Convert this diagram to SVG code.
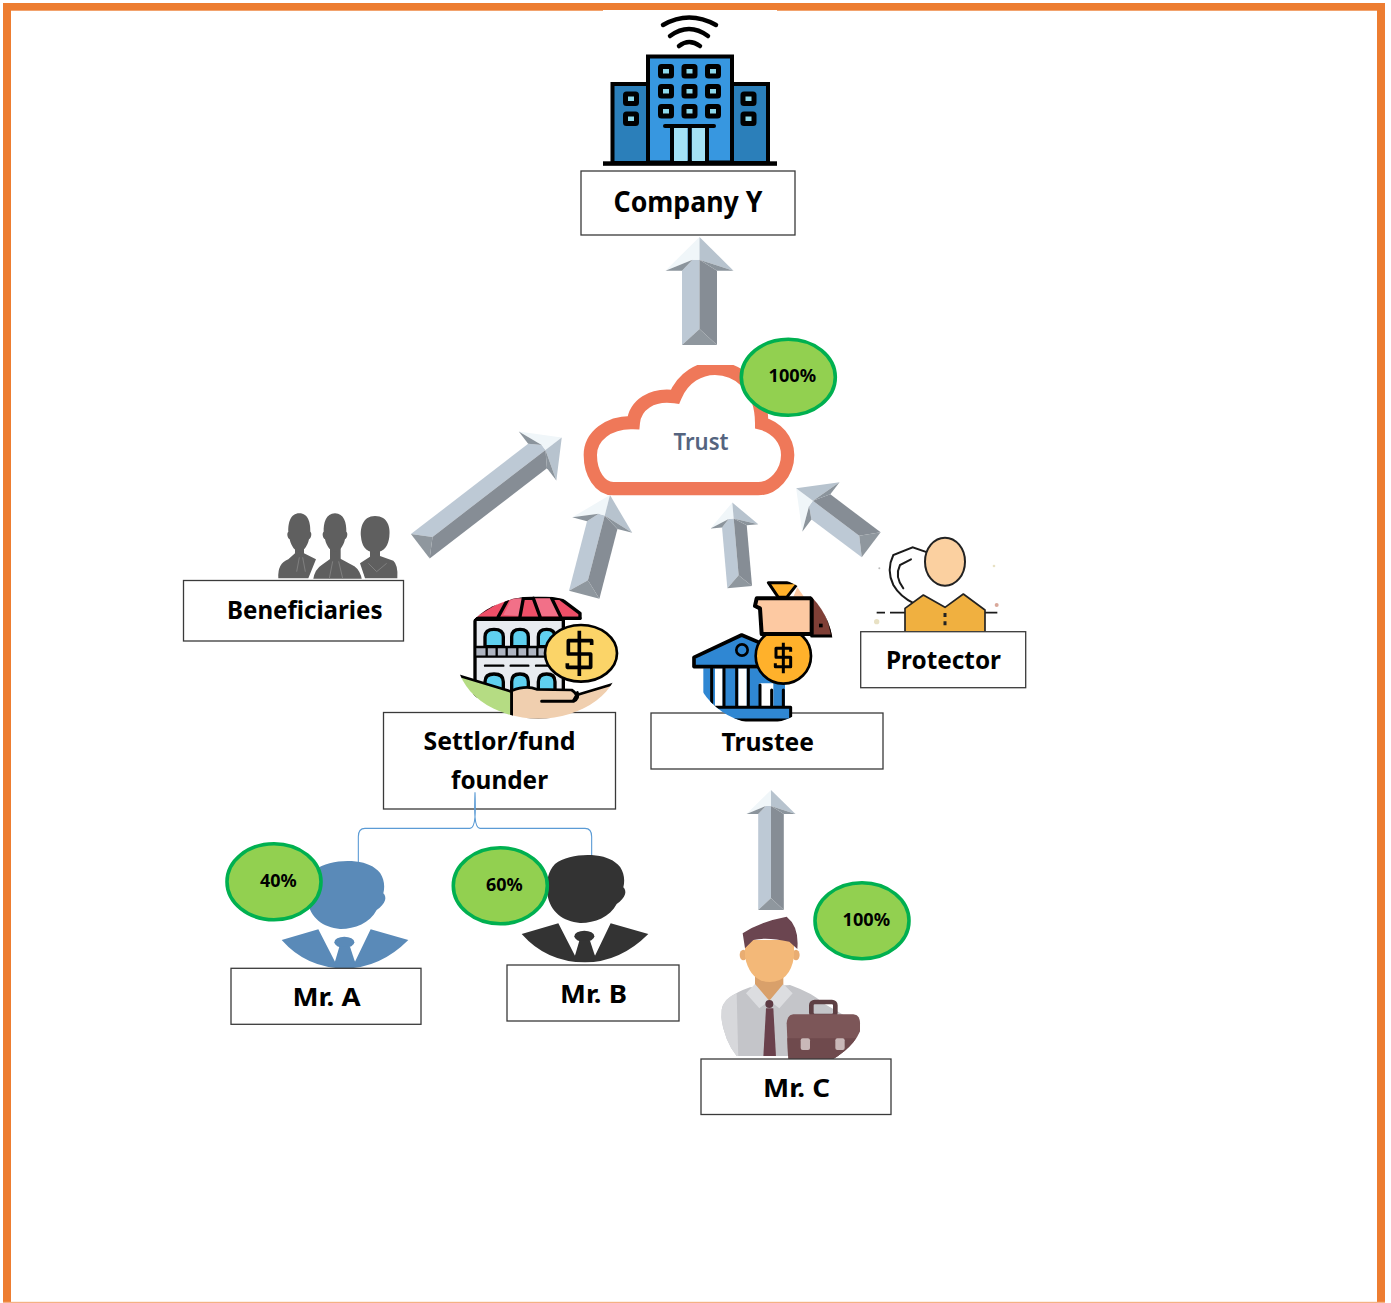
<svg xmlns="http://www.w3.org/2000/svg" xmlns:xlink="http://www.w3.org/1999/xlink" width="1391" height="1303" viewBox="0 0 1391 1303">
<style>
.box{fill:#fff;stroke:#3a3a3a;stroke-width:1.3}
.lbl{font-family:"Noto Sans","Open Sans","DejaVu Sans",sans-serif;font-weight:700;font-size:25px;fill:#000;text-anchor:start}
.pct{font-family:"Noto Sans","Open Sans","DejaVu Sans",sans-serif;font-weight:700;font-size:18px;fill:#000}
.oval{fill:#92d050;stroke:#00b050;stroke-width:3.6}
.a1{fill:#bdc9d5}.a2{fill:#868d95}.a3{fill:#8f979e}.a4{fill:#f0f6f9}.a5{fill:#b7c3ce}.a6{fill:#8b949c}
.k{stroke:#000;stroke-linejoin:round;stroke-linecap:round}
.brace{fill:none;stroke:#5b9bd5;stroke-width:3.300}
</style>
<defs>
<clipPath id="cloudClip"><rect x="560" y="365" width="260" height="140"/></clipPath>
<clipPath id="shopClip"><ellipse cx="295" cy="262" rx="245" ry="184"/></clipPath>
<clipPath id="bankClip"><ellipse cx="965" cy="240" rx="215" ry="222"/></clipPath>
<clipPath id="cClip"><path d="M55,400H490V720Q480,790 395,840H265V828H110Q70,780 60,690Z"/></clipPath>
<g id="man">
<path d="M285,240C330,205 430,205 465,235C490,250 497,285 490,310C502,322 497,342 470,360C450,400 400,418 360,417C310,412 270,385 262,330C258,290 265,260 285,240Z"/>
<path d="M185,450L295,418L345,515L372,482L405,515L452,418L565,450Q480,535 375,535Q260,535 185,450Z"/>
<ellipse cx="373" cy="457" rx="30" ry="17"/>
<path d="M358,470H390L408,525H342Z"/>
</g>
</defs>
<rect x="0" y="0" width="1391" height="1303" fill="#fff"/>
<g fill="#ed7d31">
<rect x="3" y="3" width="1382" height="7.700"/>
<rect x="3" y="3" width="8" height="1300"/>
<rect x="1377" y="3" width="8" height="1300"/>
</g>
<rect x="3" y="1301.800" width="1382" height="1.200" fill="#f4b183"/>
<rect x="603" y="10" width="174" height="2" fill="#fff"/>

<g id="connectors">
<g id="arrow-company" transform="translate(699.500,345)">
<polygon class="a1" points="-17.500,0 0,-16 0,-85.300 -7,-85.300 -17.500,-74.300"/><polygon class="a2" points="17.500,0 0,-16 0,-85.300 17.500,-74.300"/><polygon class="a3" points="-17.500,0 0,-16 17.500,0"/><polygon class="a4" points="0,-108 -34,-74.300 -7,-85.300 0,-85.300"/><polygon class="a5" points="0,-108 34,-74.300 0,-85.300"/><polygon class="a6" points="-34,-74.300 -7,-85.300 -17.500,-74.300"/><polygon class="a6" points="34,-74.300 0,-85.300 17.500,-74.300"/>
</g>
<g id="arrow-beneficiaries" transform="translate(420.300,546.300) rotate(52.400)">
<polygon class="a1" points="-15.400,0 0,-15.400 0,-158 -6.200,-158 -15.400,-148"/><polygon class="a2" points="15.400,0 0,-15.400 0,-158 15.400,-148"/><polygon class="a3" points="-15.400,0 0,-15.400 15.400,0"/><polygon class="a4" points="0,-178.500 -30.800,-148 -6.200,-158 0,-158"/><polygon class="a5" points="0,-178.500 30.800,-148 0,-158"/><polygon class="a6" points="-30.800,-148 -6.200,-158 -15.400,-148"/><polygon class="a6" points="30.800,-148 0,-158 15.400,-148"/>
</g>
<g id="arrow-settlor" transform="translate(584.200,594.800) rotate(14.500)">
<polygon class="a1" points="-15.700,0 0,-15 0,-82 -6.300,-82 -15.700,-72"/><polygon class="a2" points="15.700,0 0,-15 0,-82 15.700,-72"/><polygon class="a3" points="-15.700,0 0,-15 15.700,0"/><polygon class="a4" points="0,-103 -31,-72 -6.300,-82 0,-82"/><polygon class="a5" points="0,-103 31,-72 0,-82"/><polygon class="a6" points="-31,-72 -6.300,-82 -15.700,-72"/><polygon class="a6" points="31,-72 0,-82 15.700,-72"/>
</g>
<g id="arrow-trustee" transform="translate(739.700,587.200) rotate(-5)">
<polygon class="a1" points="-12.400,0 0,-12 0,-69 -5,-69 -12.400,-61"/><polygon class="a2" points="12.400,0 0,-12 0,-69 12.400,-61"/><polygon class="a3" points="-12.400,0 0,-12 12.400,0"/><polygon class="a4" points="0,-85 -24,-61 -5,-69 0,-69"/><polygon class="a5" points="0,-85 24,-61 0,-69"/><polygon class="a6" points="-24,-61 -5,-69 -12.400,-61"/><polygon class="a6" points="24,-61 0,-69 12.400,-61"/>
</g>
<g id="arrow-protector" transform="translate(871.200,544.800) rotate(-53)">
<polygon class="a1" points="-15.700,0 0,-15 0,-73 -6.300,-73 -15.700,-63"/><polygon class="a2" points="15.700,0 0,-15 0,-73 15.700,-63"/><polygon class="a3" points="-15.700,0 0,-15 15.700,0"/><polygon class="a4" points="0,-94 -31,-63 -6.300,-73 0,-73"/><polygon class="a5" points="0,-94 31,-63 0,-73"/><polygon class="a6" points="-31,-63 -6.300,-73 -15.700,-63"/><polygon class="a6" points="31,-63 0,-73 15.700,-63"/>
</g>
<g id="arrow-trustee-c" transform="translate(771,910)">
<polygon class="a1" points="-12.800,0 0,-12 0,-104 -5.100,-104 -12.800,-96"/><polygon class="a2" points="12.800,0 0,-12 0,-104 12.800,-96"/><polygon class="a3" points="-12.800,0 0,-12 12.800,0"/><polygon class="a4" points="0,-120 -24.500,-96 -5.100,-104 0,-104"/><polygon class="a5" points="0,-120 24.500,-96 0,-104"/><polygon class="a6" points="-24.500,-96 -5.100,-104 -12.800,-96"/><polygon class="a6" points="24.500,-96 0,-104 12.800,-96"/>
</g>
</g>

<g id="company-y">
<g fill="none" stroke="#000" stroke-width="4.500" stroke-linecap="round">
<path d="M663,25Q689,10 716,25"/><path d="M670,36Q689,22 708,36"/><path d="M679,46Q689,38 700,46"/>
</g>
<rect x="612.500" y="84" width="36" height="79" fill="#2b7fba" stroke="#000" stroke-width="4"/>
<rect x="732" y="84" width="36" height="79" fill="#2b7fba" stroke="#000" stroke-width="4"/>
<rect x="648" y="56.500" width="84" height="106" fill="#3797e0" stroke="#000" stroke-width="4"/>
<g fill="#8dd8ea" stroke="#000" stroke-width="5">
<rect x="660.500" y="66.500" width="11" height="9.500" rx="1"/><rect x="684" y="66.500" width="11" height="9.500" rx="1"/><rect x="707.500" y="66.500" width="11" height="9.500" rx="1"/>
<rect x="660.500" y="86.500" width="11" height="9.500" rx="1"/><rect x="684" y="86.500" width="11" height="9.500" rx="1"/><rect x="707.500" y="86.500" width="11" height="9.500" rx="1"/>
<rect x="660.500" y="106.500" width="11" height="9.500" rx="1"/><rect x="684" y="106.500" width="11" height="9.500" rx="1"/><rect x="707.500" y="106.500" width="11" height="9.500" rx="1"/>
<rect x="625.500" y="94" width="11" height="9.500" rx="1"/><rect x="625.500" y="114" width="11" height="9.500" rx="1"/>
<rect x="743" y="94" width="11" height="9.500" rx="1"/><rect x="743" y="114" width="11" height="9.500" rx="1"/>
</g>
<path d="M672,126V163M689.700,126V163M707,126V163" stroke="#000" stroke-width="4" fill="none"/>
<rect x="674" y="128" width="13.500" height="33" fill="#a3e1f5"/><rect x="692" y="128" width="13" height="33" fill="#a3e1f5"/>
<path d="M665,126H714" stroke="#000" stroke-width="4" stroke-linecap="round"/>
<rect x="603" y="161.300" width="174" height="4.500" fill="#000"/>
<rect class="box" x="581" y="171" width="214" height="64"/>
<text class="lbl" x="613.500" y="212" textLength="149" lengthAdjust="spacingAndGlyphs" style="font-size:28px">Company Y</text>
</g>

<g id="trust">
<g clip-path="url(#cloudClip)">
<g transform="translate(400,340) scale(.33333)">
<path d="M640,446C600,446 571,400 571,345C571,290 625,245 700,248C705,195 755,160 825,170C850,110 900,85 945,85C1005,85 1085,130 1085,250C1130,262 1163,300 1163,345C1163,400 1120,446 1075,446Z" fill="#fff" stroke="#ef7859" stroke-width="40" stroke-linejoin="miter"/>
</g>
</g>
<text x="673.500" y="450" font-family="'Noto Sans','Open Sans',sans-serif" font-size="24" font-weight="600" fill="#55647f" textLength="55" lengthAdjust="spacingAndGlyphs">Trust</text>
<ellipse class="oval" cx="788.300" cy="377.300" rx="47" ry="38"/>
<text class="pct" x="768.500" y="381.700" textLength="47.500" lengthAdjust="spacingAndGlyphs">100%</text>
</g>

<g id="beneficiaries">
<g transform="translate(180,500) scale(.33333)">
<g fill="#5f5f5f">
<path d="M295,235Q292,190 325,178L345,160V130H372V160L408,178L385,235Z"/>
<path d="M540,190L570,170V140H600V168L640,182Q655,195 652,235H555Z"/>
<path d="M395,240Q400,205 425,190L450,172H482L525,195Q545,210 550,240Z" stroke="#fff" stroke-width="8"/>
<rect x="450" y="135" width="32" height="42"/>
<path d="M358,40C385,40 392,70 391,95C397,100 393,115 387,118C382,140 370,155 358,155C346,155 334,140 329,118C323,115 319,100 325,95C324,70 331,40 358,40Z"/>
<path d="M465,40C492,40 500,70 499,95C505,100 501,115 495,118C490,140 478,155 465,155C452,155 440,140 435,118C429,115 425,100 431,95C430,70 438,40 465,40Z"/>
<path d="M585,48C625,48 632,85 628,110C625,135 615,155 585,158C555,155 545,135 543,110C540,85 548,48 585,48Z"/>
</g>
<path d="M358,172L350,215M368,172L376,215M458,184L448,235M476,184L488,235M565,190L590,215L620,190" fill="none" stroke="#7f7f7f" stroke-width="3"/>
</g>
<rect class="box" x="183.500" y="580.500" width="220" height="60.500"/>
<text class="lbl" x="227" y="618.500" textLength="155.500" lengthAdjust="spacingAndGlyphs">Beneficiaries</text>
</g>

<g id="settlor">
<rect class="box" x="383.500" y="712.500" width="232" height="96.500"/>
<g transform="translate(440,570) scale(.33333)">
<g clip-path="url(#shopClip)">
<path d="M100,140L190,85H360L420,130L420,145H100Z" fill="#ef4f68" class="k" stroke-width="10"/>
<path d="M190,135L215,85H250L245,138ZM300,138L280,85H335L360,138Z" fill="#f27088"/>
<path d="M175,140L205,85M240,140L250,85M300,140L280,85M362,140L335,85M100,145H420" class="k" stroke-width="10" fill="none"/>
<rect x="105" y="148" width="265" height="230" fill="#e8ebf0" class="k" stroke-width="10"/>
<g fill="#5fd0ef" class="k" stroke-width="10">
<path d="M135,230V200Q135,178 162,178Q190,178 190,200V230Z"/><path d="M215,230V200Q215,178 240,178Q265,178 265,200V230Z"/><path d="M295,230V200Q295,178 320,178Q345,178 345,200V230Z"/>
<path d="M135,365V335Q135,312 162,312Q190,312 190,335V365Z"/><path d="M215,365V335Q215,312 240,312Q265,312 265,335V365Z"/><path d="M295,365V335Q295,312 320,312Q345,312 345,335V365Z"/>
</g>
<rect x="110" y="233" width="255" height="25" fill="#aeb4c1"/>
<path d="M110,231H365M110,260H365M140,233V258M170,233V258M200,233V258M232,233V258M262,233V258M292,233V258M322,233V258M135,287H190M212,287H265M288,287H345" class="k" stroke-width="7" fill="none"/>
<ellipse cx="423" cy="250" rx="108" ry="85" fill="#fbd468" class="k" stroke-width="8"/>
<path d="M455,225V212H385V252H452V292H382V280M418,182V318" fill="none" stroke="#000" stroke-width="11" stroke-linejoin="round"/>
<path d="M60,318L215,365V445L60,445Z" fill="#b5dc83" class="k" stroke-width="8"/>
<path d="M215,362Q260,345 290,358L395,360Q420,375 400,392L410,375L520,342L540,450H215Z" fill="#f0cfaf" class="k" stroke-width="8"/>
<path d="M305,394H400Q418,385 412,368" fill="none" class="k" stroke-width="9"/>
</g>
</g>
<text class="lbl" x="423.500" y="750" textLength="152" lengthAdjust="spacingAndGlyphs">Settlor/fund</text>
<text class="lbl" x="451" y="789" textLength="97" lengthAdjust="spacingAndGlyphs">founder</text>
</g>

<g id="trustee">
<rect class="box" x="651" y="713" width="232" height="56"/>
<g transform="translate(440,570) scale(.33333)">
<g clip-path="url(#bankClip)">
<path d="M790,295H1035V410H790Z" fill="#2f87d3"/>
<path d="M825,295H848V410H825ZM895,295H920V410H895ZM958,340H1000V410H958Z" fill="#fff"/>
<path d="M815,295V410M852,295V410M890,295V410M925,295V410M960,345V410M995,360V410M1030,360V410" class="k" stroke-width="9" fill="none"/>
<path d="M762,285V262L905,195L975,225V290H762Z" fill="#2f87d3" class="k" stroke-width="11"/>
<circle cx="906" cy="240" r="17" fill="#2f87d3" class="k" stroke-width="8"/>
<path d="M815,412H1052V450H880Q840,440 815,412Z" fill="#2f87d3" class="k" stroke-width="9"/>
<ellipse cx="1030" cy="258" rx="83" ry="83" fill="#ffb12b" class="k" stroke-width="8"/>
<path d="M1052,245V235H1008V262H1052V290H1006V280M1030,218V310" fill="none" stroke="#000" stroke-width="9" stroke-linejoin="round"/>
<path d="M985,38H1075L1040,82H1015Z" fill="#ffb12b" class="k" stroke-width="9"/>
<path d="M1060,80L1072,52L1092,80Z" fill="#fdc9a2"/>
<path d="M1115,85L1120,70Q1165,120 1178,198H1115Z" fill="#7f3f36" class="k" stroke-width="9"/>
<path d="M950,85H1115V192H965L960,115L945,108Z" fill="#fdc9a2" class="k" stroke-width="12"/>
<rect x="1137" y="161" width="11" height="11" fill="#000"/>
</g>
</g>
<text class="lbl" x="721.500" y="751" textLength="92.500" lengthAdjust="spacingAndGlyphs">Trustee</text>
</g>

<g id="protector">
<g transform="translate(850,520) scale(.33333)">
<g fill="#e8e1c4"><circle cx="80" cy="305" r="8"/><circle cx="432" cy="138" r="4"/></g>
<circle cx="440" cy="255" r="6" fill="#d9a89a"/><circle cx="88" cy="145" r="3" fill="#bbb"/>
<path d="M232,97L188,82L130,105Q108,150 130,195Q150,230 192,250M183,118L150,135Q133,170 160,205" fill="none" stroke="#1a1a1a" stroke-width="6" stroke-linecap="round"/>
<path d="M80,278H105M120,278H165M405,278H442" stroke="#1a1a1a" stroke-width="5"/>
<ellipse cx="285" cy="125" rx="60" ry="72" fill="#fbd0a0" stroke="#222" stroke-width="6"/>
<path d="M165,338V265L220,225L285,262L340,222L405,270V338Z" fill="#f0b040" stroke="#222" stroke-width="5" stroke-linejoin="round"/>
<path d="M285,279V291M285,304V316" stroke="#222" stroke-width="9"/>
</g>
<rect class="box" x="860.700" y="631.700" width="165" height="56"/>
<text class="lbl" x="886" y="669" textLength="115" lengthAdjust="spacingAndGlyphs">Protector</text>
</g>

<g id="brace" transform="translate(220,790) scale(.33333)">
<path class="brace" d="M765,7C767,60 768,115 750,115H435Q415,115 415,140V218M765,7C763,60 762,115 780,115H1095Q1115,115 1115,140V198"/>
</g>

<g id="mr-a">
<g transform="translate(220,790) scale(.33333)"><use xlink:href="#man" href="#man" fill="#5a8ab8"/></g>
<ellipse class="oval" cx="274" cy="881.700" rx="47" ry="38"/>
<text class="pct" x="260" y="886.700" textLength="36.700" lengthAdjust="spacingAndGlyphs">40%</text>
<rect class="box" x="231" y="968.300" width="190" height="56"/>
<text class="lbl" x="292.500" y="1006" textLength="68" lengthAdjust="spacingAndGlyphs">Mr. A</text>
</g>

<g id="mr-b">
<g transform="translate(460,784) scale(.33333)"><use xlink:href="#man" href="#man" fill="#333"/></g>
<ellipse class="oval" cx="500.300" cy="885.800" rx="47" ry="38"/>
<text class="pct" x="486" y="891" textLength="36.700" lengthAdjust="spacingAndGlyphs">60%</text>
<rect class="box" x="507" y="965" width="172" height="56"/>
<text class="lbl" x="560" y="1003" textLength="67" lengthAdjust="spacingAndGlyphs">Mr. B</text>
</g>

<g id="mr-c">
<g transform="translate(700,780) scale(.33333)">
<g clip-path="url(#cClip)">
<path d="M65,690Q70,650 150,622L270,615Q340,640 370,670L440,710V840H60Z" fill="#c4c5c9"/>
<path d="M65,690Q70,655 110,640L115,840H60Z" fill="#d7d8db"/>
<path d="M165,570H250V630L208,665L165,630Z" fill="#d9a06a"/>
<path d="M138,640L165,612L208,662L178,685ZM278,640L250,612L208,662L238,685Z" fill="#dcdde0"/>
<ellipse cx="130" cy="525" rx="11" ry="16" fill="#e9ad72"/><ellipse cx="288" cy="525" rx="11" ry="16" fill="#e9ad72"/>
<path d="M135,480H282V530Q270,605 210,606Q150,605 135,530Z" fill="#f3b878"/>
<path d="M128,460Q180,425 260,410Q298,440 292,507L268,485Q200,470 160,480L135,505Z" fill="#6b4550"/>
<circle cx="208" cy="672" r="12" fill="#5d3a44"/>
<path d="M198,685H220L228,830H190Z" fill="#6a414c"/>
<rect x="334" y="666" width="72" height="42" rx="10" fill="none" stroke="#5e4044" stroke-width="14"/>
<path d="M280,703H460Q480,705 480,730V850H265L260,730Q262,705 280,703Z" fill="#7c5658"/>
<path d="M262,775H480V850H265Z" fill="#6f4a4d"/>
<rect x="302" y="775" width="28" height="35" rx="6" fill="#c9b8b8"/><rect x="406" y="775" width="28" height="35" rx="6" fill="#c9b8b8"/>
</g>
</g>
<ellipse class="oval" cx="862" cy="920.800" rx="47" ry="38"/>
<text class="pct" x="842.500" y="925.700" textLength="47.500" lengthAdjust="spacingAndGlyphs">100%</text>
<rect class="box" x="701" y="1059" width="190" height="55.500"/>
<text class="lbl" x="763" y="1096.500" textLength="67" lengthAdjust="spacingAndGlyphs">Mr. C</text>
</g>
</svg>
